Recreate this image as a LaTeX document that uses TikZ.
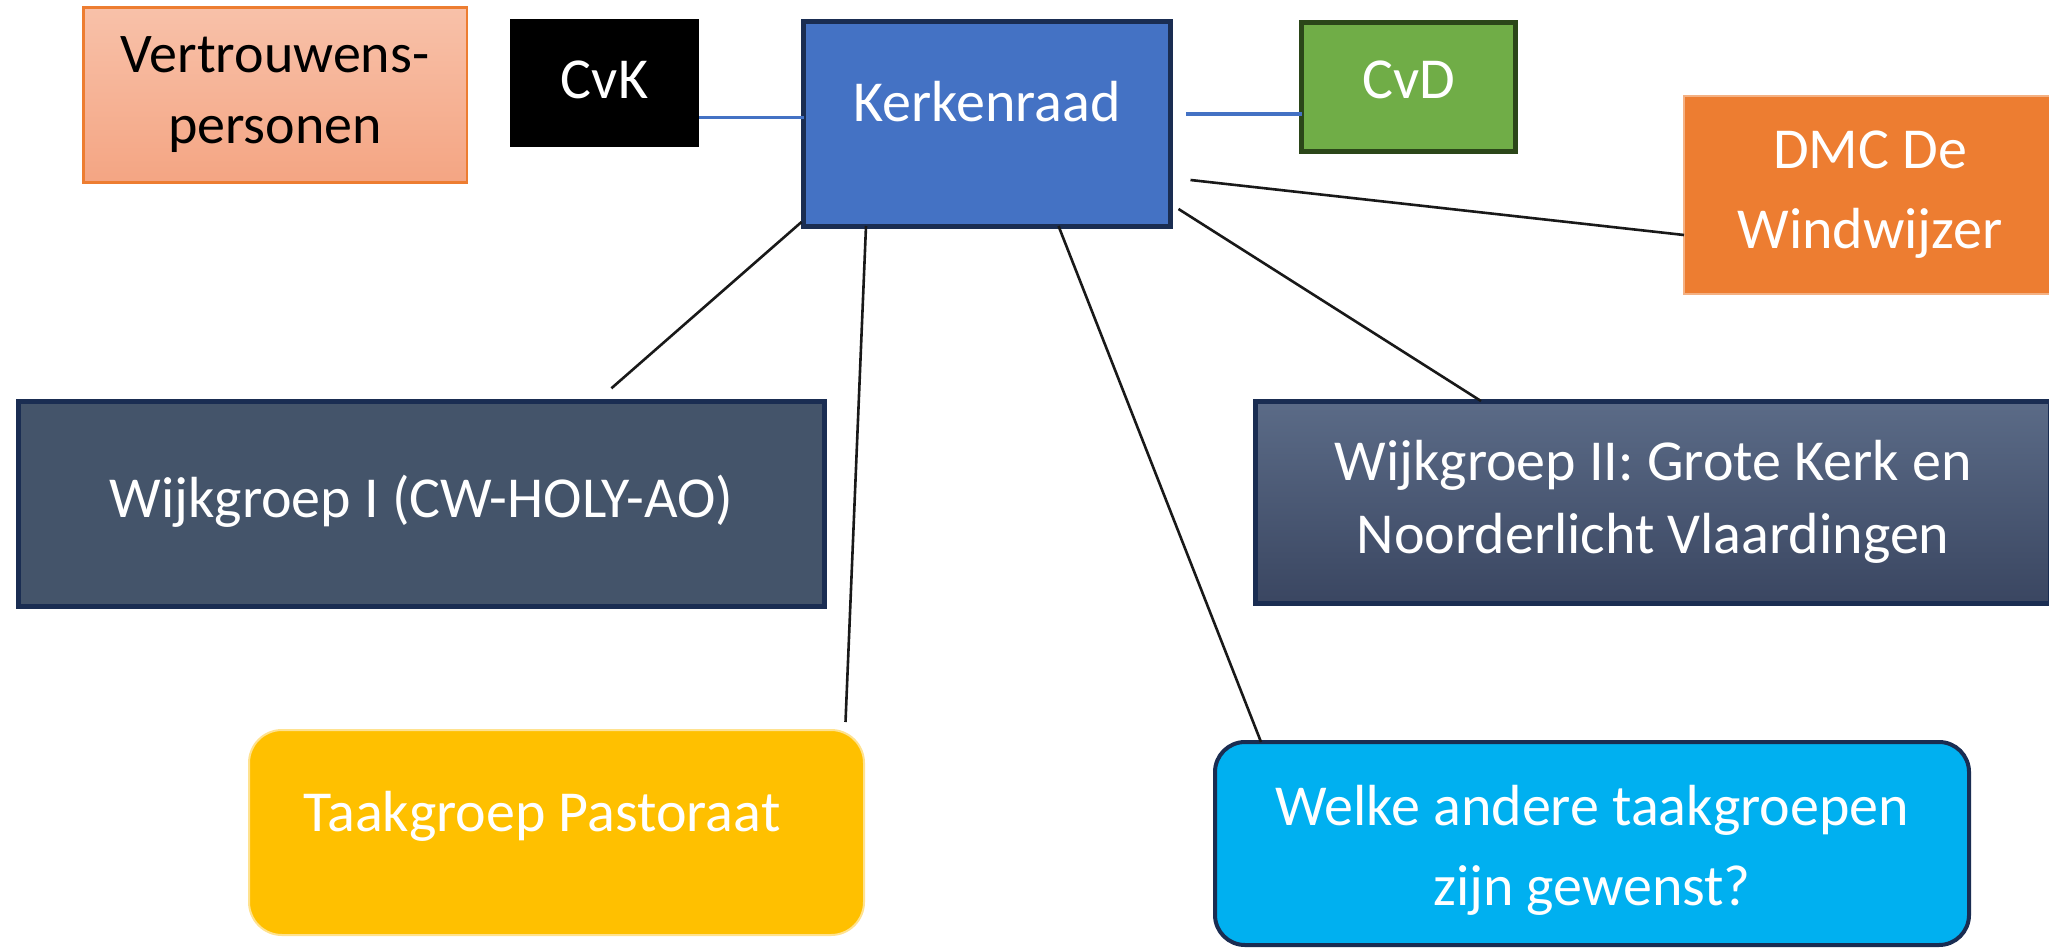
\documentclass[tikz,border=0pt]{standalone}
\usepackage{fontspec}
\setmainfont{Carlito}
\usetikzlibrary{calc}
\definecolor{kblue}{HTML}{4472C4}
\definecolor{navy}{HTML}{1A2D52}
\definecolor{cvdgreen}{HTML}{70AD47}
\definecolor{cvdborder}{HTML}{2B4619}
\definecolor{dmcorange}{HTML}{ED7D31}
\definecolor{dmcborder}{HTML}{F4B183}
\definecolor{wijkgray}{HTML}{44546A}
\definecolor{wijktop}{HTML}{5B6B87}
\definecolor{wijkbot}{HTML}{3A4661}
\definecolor{taakyellow}{HTML}{FFC000}
\definecolor{taakborder}{HTML}{FFE28F}
\definecolor{welkeblue}{HTML}{00B0F0}
\definecolor{verttop}{HTML}{F8C1A9}
\definecolor{vertbot}{HTML}{F4A583}
\definecolor{vertborder}{HTML}{ED7D31}
\begin{document}
\begin{tikzpicture}[x=1pt,y=1pt,
  box/.style={rectangle,inner sep=0pt,outer sep=0pt,align=center,text=white,
    font=\fontsize{58}{76}\selectfont},
  blueline/.style={draw=kblue,line width=3.2pt},
  blackline/.style={draw=black!90,line width=2.6pt}]
\useasboundingbox (0,0) rectangle (2049,-950);
\fill[white] (0,0) rectangle (2049,-950);

\node[box,text=black,font=\fontsize{56}{71}\selectfont,draw=vertborder,line width=2.5pt,
  top color=verttop,bottom color=vertbot,
  minimum width=383.5,minimum height=174.5] (vert) at (275,-95) {Vertrouwens-\\personen};
\node[box,fill=black,minimum width=189,minimum height=127,
  text height=40pt,text depth=8.6pt] (cvk) at (604.5,-83) {CvK};
\node[box,fill=kblue,draw=navy,line width=5pt,minimum width=367,minimum height=204,
  text height=40pt,text depth=46pt] (kerk) at (987,-124) {Kerkenraad};
\node[box,fill=cvdgreen,draw=cvdborder,line width=5pt,minimum width=214,minimum height=129,
  text height=40pt,text depth=16.6pt] (cvd) at (1408.5,-87) {CvD};
\node[box,fill=dmcorange,draw=dmcborder,line width=2pt,minimum width=372,minimum height=198,
  font=\fontsize{58}{80}\selectfont] (dmc) at (1870,-195) {DMC De\\Windwijzer};
\node[box,fill=wijkgray,draw=navy,line width=5pt,minimum width=806,minimum height=205,
  text height=40pt,text depth=12.6pt] (wijk1) at (421.4,-503.8) {Wijkgroep I (CW-HOLY-AO)};
\node[box,draw=navy,line width=5pt,top color=wijktop,bottom color=wijkbot,
  minimum width=795,minimum height=202.5,font=\fontsize{58}{73}\selectfont]
  (wijk2) at (1653,-502.3) {Wijkgroep II: Grote Kerk en\\Noorderlicht Vlaardingen};
\node[box,fill=taakyellow,draw=taakborder,line width=2pt,rounded corners=33pt,
  minimum width=615,minimum height=205,text height=40pt,text depth=42.6pt]
  (taak) at (556.5,-832.5) {Taakgroep Pastoraat\hspace{0.5em}};
\node[box,fill=welkeblue,draw=navy,line width=4pt,rounded corners=30pt,
  minimum width=754,minimum height=203,font=\fontsize{58}{80}\selectfont,
  text height=124pt,text depth=0pt]
  (welke) at (1592,-843.5) {Welke andere taakgroepen\\zijn gewenst?};

% connectors
\coordinate (c1) at ([yshift=-34.6pt]cvk.east);
\draw[blueline] (c1) -- (c1 -| kerk.west);
\coordinate (c2) at ([yshift=-27pt]cvd.west);
\draw[blueline] (c2) -- ($(c2 -| kerk.east)+(15pt,0)$);
\draw[blackline] ([xshift=20pt,yshift=-56pt]kerk.east) -- ([yshift=-40pt]dmc.west);
\draw[blackline] ([xshift=-2pt,yshift=4pt]kerk.south west) -- ([xshift=190pt,yshift=13pt]wijk1.north);
\draw[blackline] ([xshift=-121pt]kerk.south) -- ([xshift=289pt,yshift=8pt]taak.north);
\draw[blackline] ([xshift=71.5pt]kerk.south) -- ([xshift=-331pt]welke.north);
\draw[blackline] ([xshift=8pt,yshift=-85pt]kerk.east) -- ([xshift=-172pt]wijk2.north);
\end{tikzpicture}
\end{document}
